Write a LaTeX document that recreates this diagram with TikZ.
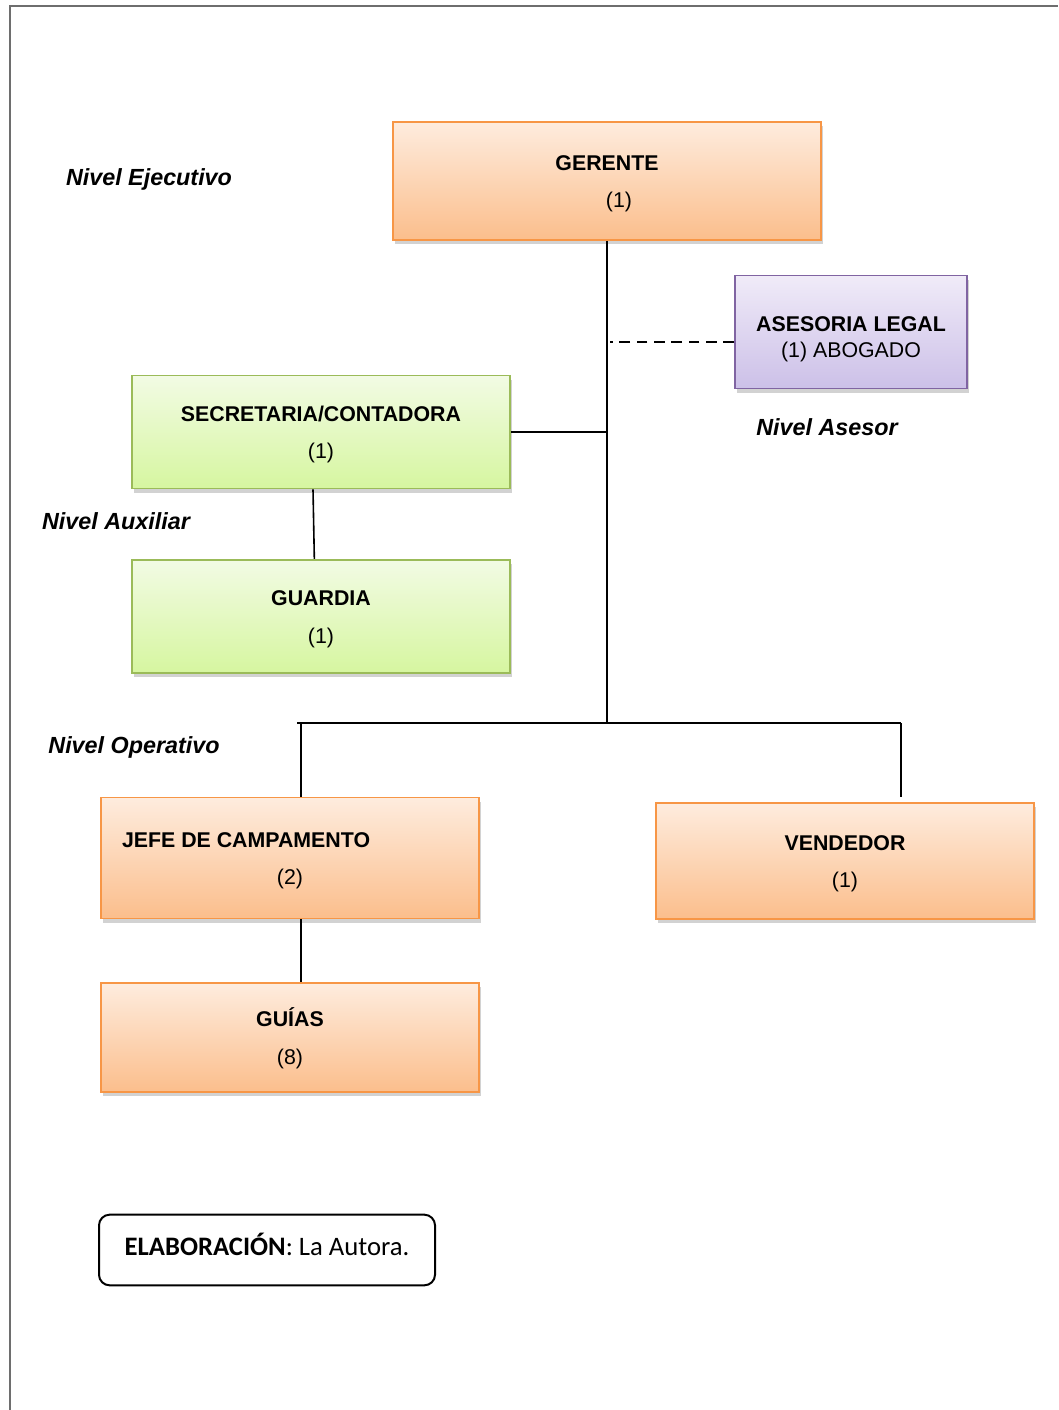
\documentclass[tikz,border=0pt]{standalone}
\usepackage{fontspec}
\setmainfont{Liberation Sans}
\newfontfamily\calibri{Carlito}
\usepackage{xcolor}
\usepackage{tikz}
\usetikzlibrary{positioning,shadows}
\definecolor{orangeline}{RGB}{247,150,70}
\definecolor{orangetop}{RGB}{254,236,222}
\definecolor{orangebot}{RGB}{251,190,140}
\definecolor{greenline}{RGB}{155,187,89}
\definecolor{greentop}{RGB}{242,251,228}
\definecolor{greenbot}{RGB}{214,246,160}
\definecolor{purpleline}{RGB}{128,100,162}
\definecolor{purpletop}{RGB}{240,235,248}
\definecolor{purplebot}{RGB}{204,192,232}
\definecolor{frame}{RGB}{110,110,110}

\begin{document}
\begin{tikzpicture}[
  x=0.75pt, y=-0.75pt,
  font=\fontsize{16}{19.2}\selectfont,
  cargo/.style={draw=orangeline, line width=1.4pt, top color=orangetop, bottom color=orangebot,
    minimum width=283.5pt, align=center, text height=43.5pt,
    drop shadow={shadow xshift=1.5pt, shadow yshift=-3pt, fill=black!35}},
  auxiliar/.style={cargo, draw=greenline, top color=greentop, bottom color=greenbot, minimum height=84.75pt},
  asesor/.style={cargo, draw=purpleline, top color=purpletop, bottom color=purplebot,
    minimum width=174pt, minimum height=84.75pt, text height=41.5pt},
  nivel/.style={font=\fontsize{17.5}{21}\selectfont\bfseries\itshape},
  linea/.style={line width=1.2pt, black}
]
\useasboundingbox (0,0) rectangle (1058,1410);
% marco de la pagina
\draw[frame, line width=1.5pt] (10,1410) -- (10,6) -- (1058,6);

% nivel ejecutivo
\node[cargo, minimum width=321pt, minimum height=88.5pt] (ger) at (607,181)
  {\textbf{GERENTE}\\[9pt]\hspace*{18pt}(1)};
\node[nivel] (nej) at (149,179) {Nivel Ejecutivo};

% nivel asesor
\node[asesor] (ase) at (851,332) {\textbf{ASESORIA LEGAL}\\(1) ABOGADO};
\node[nivel] (nas) at (827,427) {Nivel Asesor};

% nivel auxiliar
\node[auxiliar] (sec) at (321,432) {\textbf{SECRETARIA/CONTADORA}\\[9pt](1)};
\node[auxiliar, below=52pt of sec] (gua) {\textbf{GUARDIA}\\[9pt](1)};
\node[nivel] (nau) at (116,521) {Nivel Auxiliar};

% nivel operativo
\node[nivel] (nop) at (134,747) {Nivel Operativo};
\node[cargo, minimum height=90.75pt] (jefe) at (290,858)
  {\makebox[252pt][l]{\textbf{JEFE DE CAMPAMENTO}}\\[9pt](2)};
\node[cargo, minimum height=87pt] (ven) at (845,861) {\textbf{VENDEDOR}\\[9pt](1)};
\node[cargo, below=47pt of jefe, minimum height=81.75pt] (gui) {\textbf{GUÍAS}\\[9pt](8)};

\node[draw, line width=1.5pt, rounded corners=8pt, minimum width=252pt, minimum height=53pt,
  text depth=9pt, font=\calibri\fontsize{20}{24}\selectfont] (elab) at (267,1250)
  {\textbf{ELABORACIÓN}: La Autora.};

% conectores
\coordinate (tronco) at (607,723);
\coordinate (izq) at (297,723);
\coordinate (bajaizq) at (301,723);
\coordinate (der) at (901,723);
\draw[linea] (ger.south) -- (tronco);
\draw[linea, dashed, dash pattern=on 8pt off 5pt] ([yshift=-7.5pt]ase.west) -- ([xshift=2pt,yshift=-7.5pt]ase.west -| tronco);
\draw[linea] (sec.east) -- (sec.east -| tronco);
\draw[linea] ([xshift=-6pt]sec.south) -- ([xshift=-5pt]gua.north);
\draw[linea] (izq) -- (der);
\draw[linea] (bajaizq) -- (bajaizq |- jefe.north);
\draw[linea] (der) -- ([yshift=4pt]der |- ven.north);
\draw[linea] (bajaizq |- jefe.south) -- (bajaizq |- gui.north);
\end{tikzpicture}
\end{document}
